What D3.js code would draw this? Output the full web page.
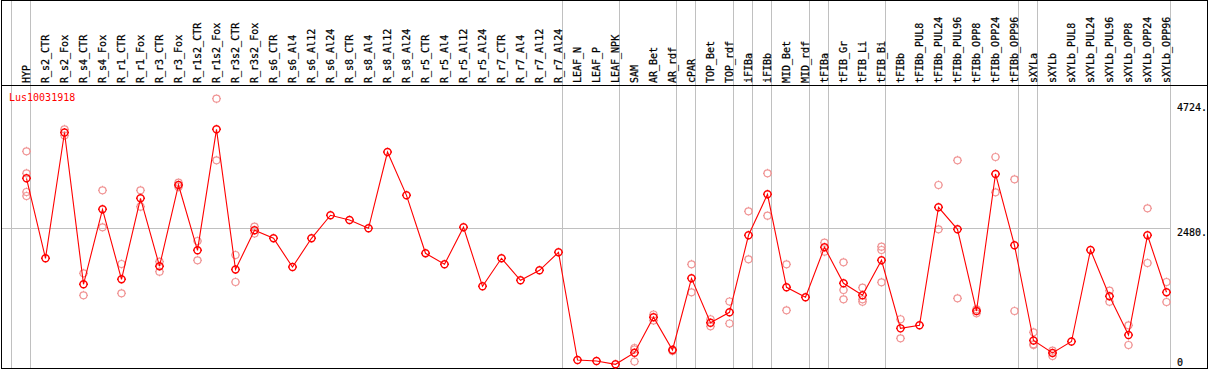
<!DOCTYPE html>
<html>
<head>
<meta charset="utf-8">
<script src="https://cdn.jsdelivr.net/npm/d3@7"></script>
<style>
  body { margin: 0; background: #fff; }
  svg { display: block; }
  text { font-family: "DejaVu Sans Mono", monospace; font-size: 10px; }
</style>
</head>
<body>
<div id="chart"></div>
<script>
// sample columns, left to right
const categories = ["HYP", "R_s2_CTR", "R_s2_Fox", "R_s4_CTR", "R_s4_Fox", "R_r1_CTR", "R_r1_Fox",
  "R_r3_CTR", "R_r3_Fox", "R_r1s2_CTR", "R_r1s2_Fox", "R_r3s2_CTR", "R_r3s2_Fox", "R_s6_CTR",
  "R_s6_Al4", "R_s6_Al12", "R_s6_Al24", "R_s8_CTR", "R_s8_Al4", "R_s8_Al12", "R_s8_Al24",
  "R_r5_CTR", "R_r5_Al4", "R_r5_Al12", "R_r5_Al24", "R_r7_CTR", "R_r7_Al4", "R_r7_Al12",
  "R_r7_Al24", "LEAF_N", "LEAF_P", "LEAF_NPK", "SAM", "AR_Bet", "AR_rdf", "cPAR", "TOP_Bet",
  "TOP_rdf", "iFIBa", "iFIBb", "MID_Bet", "MID_rdf", "tFIBa", "tFIB_Gr", "tFIB_Li", "tFIB_Bi",
  "tFIBb", "tFIBb_PUL8", "tFIBb_PUL24", "tFIBb_PUL96", "tFIBb_OPP8", "tFIBb_OPP24", "tFIBb_OPP96",
  "sXYLa", "sXYLb", "sXYLb_PUL8", "sXYLb_PUL24", "sXYLb_PUL96", "sXYLb_OPP8", "sXYLb_OPP24",
  "sXYLb_OPP96"];

// mean expression per column
const meanValues = [3377, 1945, 4196, 1480, 2822, 1569, 3019, 1804, 3257, 2088, 4253, 1745, 2446,
  2303, 1789, 2303, 2715, 2630, 2482, 3847, 3072, 2035, 1838, 2500, 1444, 1945, 1551, 1730, 2052,
  125, 107, 48, 256, 891, 304, 1587, 793, 979, 2357, 3090, 1426, 1247, 2142, 1498, 1283, 1909,
  692, 746, 2858, 2464, 1002, 3454, 2178, 474, 251, 456, 2094, 1265, 573, 2357, 1337];

// individual replicates per column (light circles)
const replicateValues = [
  [3860, 3466, 3131, 3060], [], [4253, 4142], [1677, 1283], [3162, 2500], [1843, 1319],
  [3162, 2868], [1884, 1705], [3298, 3221], [2255, 1909], [4801, 3699], [2004, 1521], [2511, 2389],
  [], [], [], [], [], [], [], [], [], [], [], [], [], [], [], [], [], [], [],
  [340, 313, 98], [939, 832], [313, 286], [1838, 1337], [854, 728], [1172, 778], [2786, 1927],
  [3466, 2707], [1838, 1015], [], [2224, 2063], [1873, 1378, 1211], [1419, 1211, 1168],
  [2153, 2094, 1516], [854, 514], [], [3257, 2464], [3699, 1229], [1032, 961], [3758, 3126],
  [3359, 1002], [621, 406, 394], [292, 197], [], [], [1365, 1168], [746, 394], [2840, 1861],
  [1521, 1163]];

// last column of each tissue group (a grey separator follows it)
const groupEnds = ["HYP", "R_r7_Al24", "LEAF_NPK", "AR_rdf", "cPAR", "TOP_rdf", "iFIBa", "iFIBb",
  "MID_rdf", "tFIBa", "tFIB_Bi", "tFIBb_OPP96", "sXYLa", "sXYLb_OPP96"];

const tickValues = [0, 2480, 4724];
const geneName = "Lus10031918";

const width = 1209, height = 370;
const headerBottom = 85.5, plotBottom = 368.5;

const svg = d3.select('#chart').append('svg')
  .attr('width', width)
  .attr('height', height);

const xScale = d3.scalePoint()
  .domain(categories)
  .range([26.5, 1166.5]);

const yScale = d3.scaleLinear()
  .domain([0, 4724])
  .range([367, 103]);

const step = xScale.step();

// grey separators, one before the first column and one after each group
const sepX = [xScale(categories[0]) - step + 4].concat(groupEnds.map(c => xScale(c) + 4));
svg.append('g')
  .selectAll('line')
  .data(sepX)
  .join('line')
  .attr('x1', d => d).attr('x2', d => d)
  .attr('y1', 0).attr('y2', plotBottom)
  .attr('stroke', '#c0c0c0')
  .attr('shape-rendering', 'crispEdges');

// horizontal reference line at the middle tick
svg.append('line')
  .attr('x1', 1.5).attr('x2', xScale(categories[categories.length - 1]) + 4)
  .attr('y1', Math.round(yScale(tickValues[1])) + 0.5)
  .attr('y2', Math.round(yScale(tickValues[1])) + 0.5)
  .attr('stroke', '#c0c0c0')
  .attr('shape-rendering', 'crispEdges');

// frame and header rule
svg.append('rect')
  .attr('x', 1.5).attr('y', 0.5)
  .attr('width', 1206).attr('height', plotBottom - 0.5)
  .attr('fill', 'none')
  .attr('stroke', '#000')
  .attr('shape-rendering', 'crispEdges');
svg.append('line')
  .attr('x1', 1.5).attr('x2', 1207.5)
  .attr('y1', headerBottom).attr('y2', headerBottom)
  .attr('stroke', '#000')
  .attr('shape-rendering', 'crispEdges');

// rotated column labels
svg.append('g')
  .selectAll('text')
  .data(categories)
  .join('text')
  .attr('transform', d => `translate(${xScale(d) - 0.5},83) rotate(-90)`)
  .attr('dominant-baseline', 'central')
  .attr('fill', '#000')
  .attr('stroke', '#000')
  .attr('stroke-width', 0.25)
  .text(d => d);

// y tick labels on the right
svg.append('g')
  .selectAll('text')
  .data(tickValues)
  .join('text')
  .attr('x', 1177)
  .attr('y', d => d === 0 ? yScale(d) - 5 : yScale(d) + 4.5)
  .attr('dominant-baseline', 'central')
  .attr('fill', '#000')
  .attr('stroke', '#000')
  .attr('stroke-width', 0.2)
  .text(d => d === 0 ? '0' : d + '.');

// gene title
svg.append('text')
  .attr('x', 9)
  .attr('y', 97)
  .attr('dominant-baseline', 'central')
  .attr('fill', '#ff0000')
  .text(geneName);

// circle marker with four small ticks, like the original pixel markers
const r = 3.5;
const marker = `M${-r},0a${r},${r} 0 1,0 ${2 * r},0a${r},${r} 0 1,0 ${-2 * r},0` +
  `M${-r - 1},0h1M${r},0h1M0,${-r - 1}v1M0,${r}v1`;

const reps = [];
categories.forEach((c, i) => replicateValues[i].forEach(v => reps.push({ c, v })));

svg.append('g')
  .selectAll('path')
  .data(reps)
  .join('path')
  .attr('transform', d => `translate(${xScale(d.c)},${yScale(d.v)})`)
  .attr('d', marker)
  .attr('fill', 'none')
  .attr('stroke', '#f09494')
  .attr('stroke-width', 1.2);

const means = categories.map((c, i) => ({ c, v: meanValues[i] }));

svg.append('path')
  .datum(means)
  .attr('fill', 'none')
  .attr('stroke', '#ff0000')
  .attr('stroke-width', 1.1)
  .attr('d', d3.line().x(d => xScale(d.c)).y(d => yScale(d.v)));

svg.append('g')
  .selectAll('path')
  .data(means)
  .join('path')
  .attr('transform', d => `translate(${xScale(d.c)},${yScale(d.v)})`)
  .attr('d', marker)
  .attr('fill', 'none')
  .attr('stroke', '#ff0000')
  .attr('stroke-width', 1.4);
</script>
</body>
</html>
